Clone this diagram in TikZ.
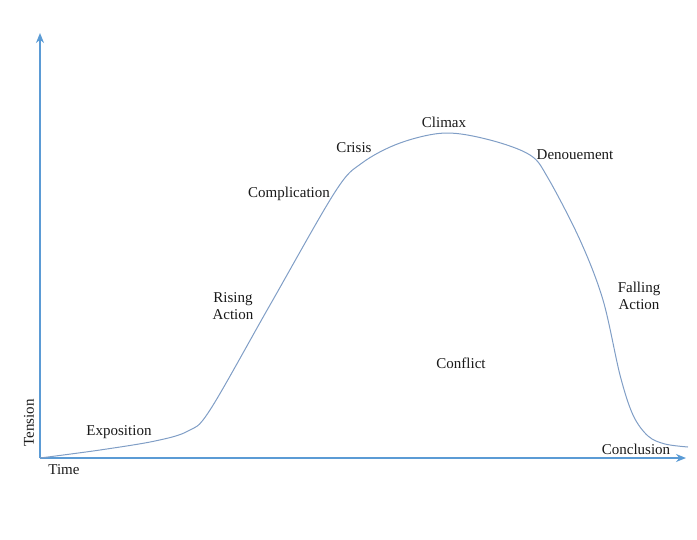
\documentclass[tikz,border=0pt]{standalone}
\usepackage{fontspec}
\setmainfont{Liberation Serif}
\usepackage{tikz}
\usepackage{xcolor}
\usetikzlibrary{arrows.meta}

\definecolor{axisblue}{RGB}{91,155,213}
\definecolor{curveblue}{RGB}{128,158,198}
\definecolor{labelgray}{RGB}{25,25,25}

\tikzset{
  lbl/.style={text=labelgray,font=\fontsize{15}{17}\selectfont,inner sep=0pt,align=center},
  axisline/.style={axisblue,line width=1.5pt,-{Stealth[length=10pt,width=8pt]}}
}

\begin{document}
\begin{tikzpicture}[x=1pt,y=-1pt]
\useasboundingbox (0,0) rectangle (697,539);

% axes
\coordinate (origin) at (40,458);
\coordinate (ytop) at (40,33);
\coordinate (xend) at (686,458);
\draw[axisline] (origin) -- (ytop);
\draw[axisline] (origin) -- (xend);

\node[lbl,rotate=90] (tension) at (29,423) {Tension};
\node[lbl] (time) at (64,470) {Time};

% the arc
\draw[curveblue,line width=1pt] plot[smooth,tension=0.55] coordinates {
  (40,458) (100,450) (155,441) (188,431) (210,410) (270,305) (335,192)
  (362,163) (400,143) (445,133) (490,140) (530,155) (548,178)
  (580,240) (603,300) (620,375) (633,415) (648,436) (665,444) (688,447)};

\node[lbl] (expo) at (119,432) {Exposition};
\node[lbl] (rising) at (233,306) {Rising\\Action};
\node[lbl] (compl) at (289,194) {Complication};
\node[lbl] (crisis) at (354,148) {Crisis};
\node[lbl] (climax) at (444,122) {Climax};
\node[lbl] (denoue) at (575,155) {Denouement};
\node[lbl] (falling) at (639,296) {Falling\\Action};
\node[lbl] (conflict) at (461,363) {Conflict};
\node[lbl] (concl) at (636,449) {Conclusion};
\end{tikzpicture}
\end{document}
